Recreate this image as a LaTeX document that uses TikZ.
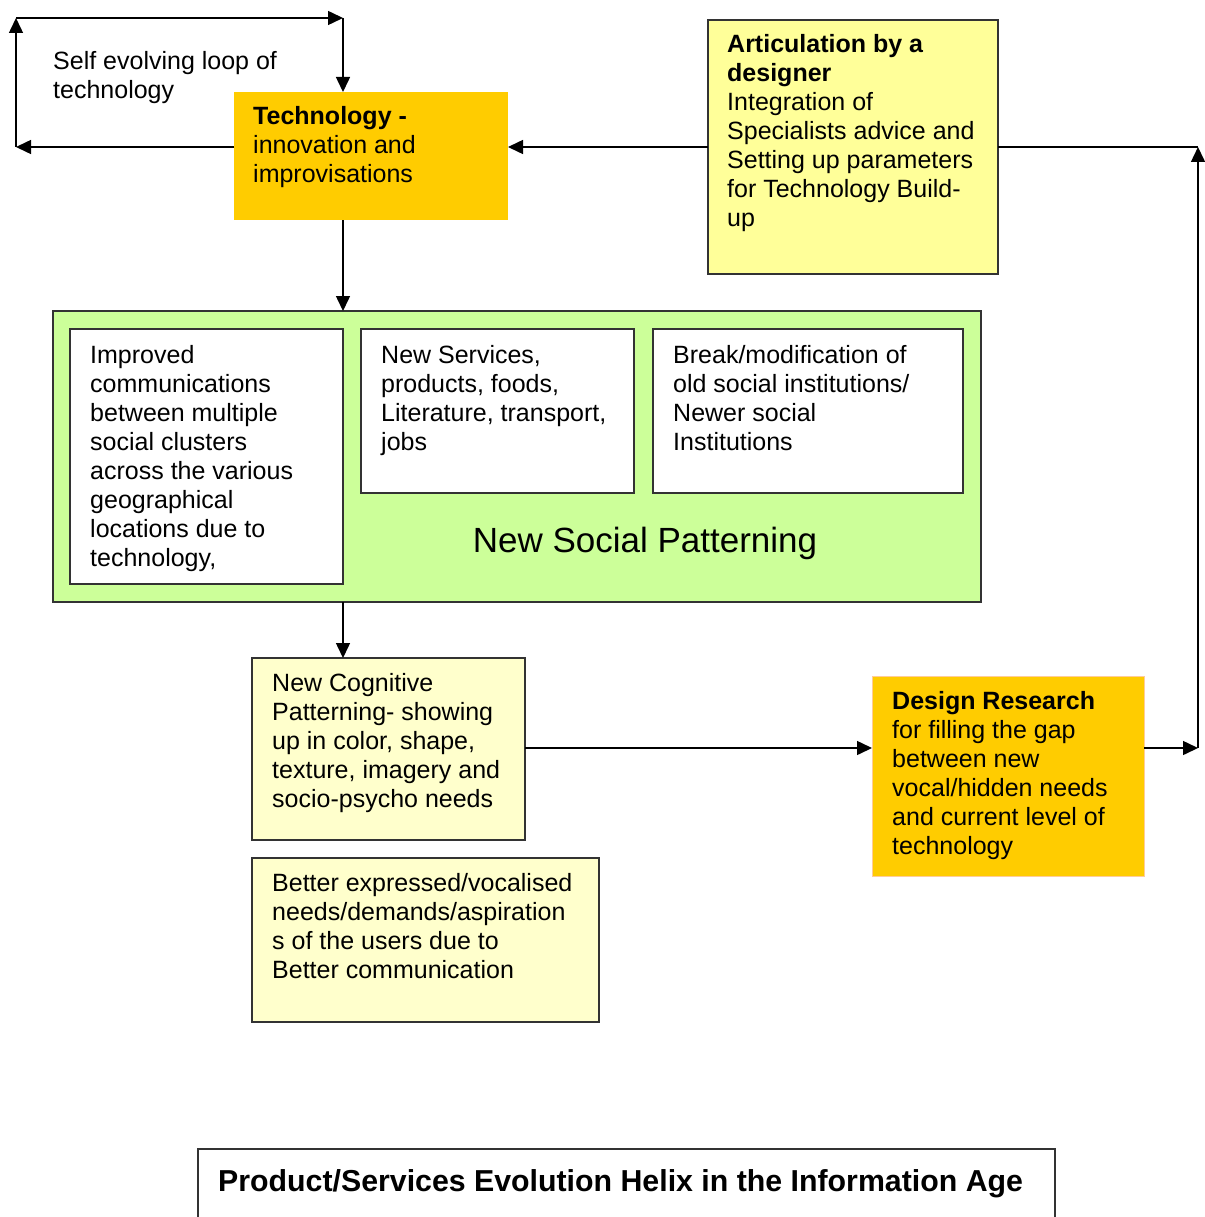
\documentclass[tikz,border=0pt]{standalone}
\usepackage{fontspec}
\setmainfont{Liberation Sans}
\usetikzlibrary{arrows.meta}
\definecolor{gold}{HTML}{FFCC00}
\definecolor{paleyel}{HTML}{FFFF99}
\definecolor{cream}{HTML}{FFFFCC}
\definecolor{lgreen}{HTML}{CCFF99}
\definecolor{boxline}{HTML}{333333}
\definecolor{peach}{HTML}{FFCC99}
\begin{document}
\begin{tikzpicture}[x=1pt,y=-1pt,
  box/.style={draw=boxline,line width=1.3pt,anchor=north west,inner sep=0pt,outer sep=0pt},
  txt/.style={anchor=north west,inner sep=0pt,align=left,font=\fontsize{25}{29}\selectfont},
  arr/.style={line width=1.5pt,-{Triangle[length=15pt,width=14pt]}},
  ln/.style={line width=1.5pt}]
\useasboundingbox[fill=white] (0,0) rectangle (1204,1217);

% boxes
\node[box,fill=gold,draw=none,minimum width=274pt,minimum height=128pt] (tech) at (234,92) {};
\node[box,fill=paleyel,minimum width=290pt,minimum height=254pt] (art) at (708,20) {};
\node[box,fill=lgreen,minimum width=928pt,minimum height=291pt] (green) at (53,311) {};
\node[box,fill=white,minimum width=273pt,minimum height=255pt] (w1) at (70,329) {};
\node[box,fill=white,minimum width=273pt,minimum height=164pt] (w2) at (361,329) {};
\node[box,fill=white,minimum width=310pt,minimum height=164pt] (w3) at (653,329) {};
\node[box,fill=cream,minimum width=273pt,minimum height=182pt] (cog) at (252,658) {};
\node[box,fill=cream,minimum width=347pt,minimum height=164pt] (better) at (252,858) {};
\node[box,fill=gold,draw=peach,line width=1pt,minimum width=272pt,minimum height=200pt] (design) at (872,676) {};
\node[box,fill=white,minimum width=857pt,minimum height=90pt] (titlebox) at (198,1149) {};

% texts
\node[txt] (tself) at (53,51) {Self evolving loop of\\technology};
\node[txt] (ttech) at (253,106) {\textbf{Technology -}\\innovation and\\improvisations};
\node[txt] (tart) at (727,34) {\textbf{Articulation by a}\\\textbf{designer}\\Integration of\\Specialists advice and\\Setting up parameters\\for Technology Build-\\up};
\node[txt] (tw1) at (90,345) {Improved\\communications\\between multiple\\social clusters\\across the various\\geographical\\locations due to\\technology,};
\node[txt] (tw2) at (381,345) {New Services,\\products, foods,\\Literature, transport,\\jobs};
\node[txt] (tw3) at (673,345) {Break/modification of\\old social institutions/\\Newer social\\Institutions};
\node[font=\fontsize{35}{40}\selectfont,inner sep=0pt] (tnsp) at (645,543) {New Social Patterning};
\node[txt] (tcog) at (272,673) {New Cognitive\\Patterning- showing\\up in color, shape,\\texture, imagery and\\socio-psycho needs};
\node[txt] (tbetter) at (272,873) {Better expressed/vocalised\\needs/demands/aspiration\\s of the users due to\\Better communication};
\node[txt] (tdesign) at (892,691) {\textbf{Design Research}\\for filling the gap\\between new\\vocal/hidden needs\\and current level of\\technology};
\node[anchor=base west,inner sep=0pt,font=\bfseries\fontsize{30.3}{34}\selectfont] (ttitle) at (218,1191) {Product/Services Evolution Helix in the Information Age};

% connectors
\coordinate (lA) at (16,147);
\coordinate (lB) at (16,18);
\coordinate (lC) at (343,18);
\coordinate (rA) at (1198,147);
\coordinate (rB) at (1198,748);
\draw[arr] (tech.west |- lA) -- (lA);
\draw[arr] (lA) -- (lB);
\draw[arr] (lB) -- (lC);
\draw[arr] (lC) -- (tech.north -| lC);
\draw[arr] (art.west |- lA) -- (tech.east |- lA);
\draw[ln] (art.east |- rA) -- (rA);
\draw[arr] (rB) -- (rA);
\draw[arr] (design.east |- rB) -- (rB);
\draw[arr] (tech.south -| lC) -- (green.north -| lC);
\draw[arr] (green.south -| lC) -- (cog.north -| lC);
\draw[arr] (cog.east |- rB) -- (design.west |- rB);
\end{tikzpicture}
\end{document}
